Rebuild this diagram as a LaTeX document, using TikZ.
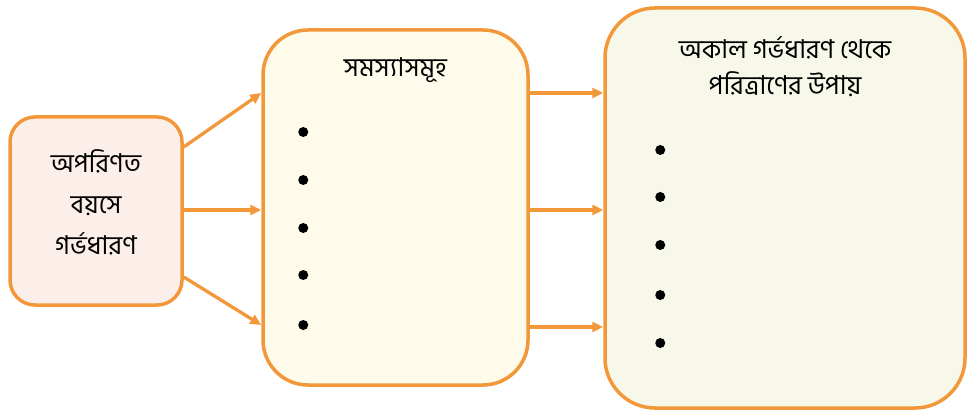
\documentclass[tikz,border=0pt]{standalone}
\usepackage{fontspec}
\newfontfamily\bnfont[Script=Bengali]{Hind Siliguri}
\usetikzlibrary{arrows.meta,positioning,calc}
\definecolor{boxorange}{RGB}{242,152,58}
\definecolor{pinkfill}{RGB}{252,238,233}
\definecolor{creamfill}{RGB}{254,251,235}
\definecolor{greenfill}{RGB}{247,248,233}
\tikzset{
  base/.style     ={rectangle, draw=boxorange, line width=3.5pt, inner sep=0pt},
  causebox/.style ={base, rounded corners=25pt, fill=pinkfill, minimum width=172pt,
                    minimum height=188pt},
  issuebox/.style ={base, rounded corners=45pt, fill=creamfill, minimum width=265pt,
                    minimum height=355pt},
  remedybox/.style={base, rounded corners=50pt, fill=greenfill, minimum width=360pt,
                    minimum height=400pt},
  ttl/.style      ={align=center, font=\bnfont\fontsize{26}{36}\selectfont},
  dot/.style      ={circle, fill=black, inner sep=0pt, minimum size=10pt},
  ar/.style       ={-{Triangle[length=11pt,width=10pt]}, line width=3.3pt, draw=boxorange},
}

\begin{document}
\begin{tikzpicture}[x=1pt,y=-1pt]
\useasboundingbox (0,0) rectangle (975,417);

\node[causebox]  (cause)  at (96,211)    {};
\node[issuebox]  (issue)  at (395.5,207.5) {};
\node[remedybox] (remedy) at (785,208)   {};

\node[ttl, font=\bnfont\fontsize{26}{41}\selectfont] (causettl)
  at ($(cause.center)+(0,-9)$) {অপরিণত\\বয়সে\\গর্ভধারণ};
\node[ttl, below=26pt of issue.north]  (issuettl)  {সমস্যাসমূহ};
\node[ttl, below=27pt of remedy.north] (remedyttl) {অকাল গর্ভধারণ থেকে\\পরিত্রাণের উপায়};

% bullets
\foreach \dy [count=\i] in {-75.5,-27.5,20.5,67.5,117.5}
  \node[dot] (idot\i) at ($(issue.west)+(42,\dy)$) {};
\foreach \dy [count=\i] in {-58,-11,37,87,135}
  \node[dot] (rdot\i) at ($(remedy.west)+(57,\dy)$) {};

% connectors
\draw[ar] ($(cause.east)+(0,-64)$) -- ($(issue.west)+(0,-114.5)$);
\draw[ar] ($(cause.east)+(0,-1)$)  -- ($(issue.west)+(0,2.5)$);
\draw[ar] ($(cause.east)+(0,66)$)  -- ($(issue.west)+(0,117.5)$);
\foreach \dy in {-114.5,2.5,119.5}
  \draw[ar] ($(issue.east)+(0,\dy)$) coordinate (s) -- (s -| remedy.west);

\end{tikzpicture}
\end{document}
